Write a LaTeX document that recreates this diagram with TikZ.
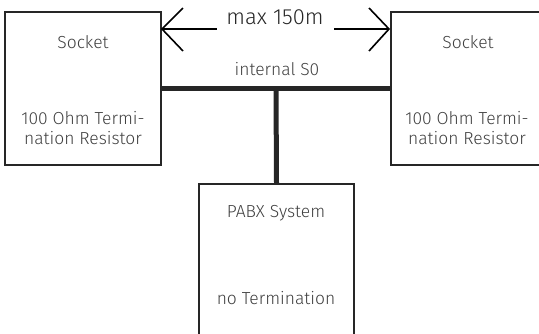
\documentclass[tikz,border=0pt]{standalone}
\usepackage{fontspec}
\setmainfont{Fira Sans}[UprightFont=* Light]
\begin{document}
\begin{tikzpicture}[x=1bp,y=-1bp,
  box/.style={draw=black!85,line width=1.5bp,rectangle,inner sep=0pt},
  lbl/.style={text=black!75,font=\fontsize{17.5}{19.5}\selectfont,align=center,inner sep=0pt},
  bus/.style={draw=black!85,line width=5bp},
  arr/.style={draw=black,line width=1.6bp}]
\useasboundingbox (0,0) rectangle (539,333);
\begin{scope}
\clip (0,0) rectangle (539,333);
\node[box,minimum width=156bp,minimum height=153bp] (left) at (83,88.5) {};
\node[box,minimum width=156bp,minimum height=153bp] (right) at (469,88.5) {};
\node[box,minimum width=155bp,minimum height=170bp] (pabx) at (276.5,269) {};
\end{scope}
\node[lbl] (ls) at (83,42) {Socket};
\node[lbl] (lr) at (83,128) {100 Ohm Termi-\\nation Resistor};
\node[lbl] (rs) at (468,42) {Socket};
\node[lbl] (rr) at (467,128) {100 Ohm Termi-\\nation Resistor};
\node[lbl] (ps) at (276,213) {PABX System};
\node[lbl] (pn) at (276,298) {no Termination};
\node[lbl] (s0) at (277,69) {internal S0};
\node[lbl,font=\fontsize{22}{24}\selectfont,text=black!85] (mx) at (275,17) {max 150m};
\coordinate (j) at (276,88);
\draw[bus] (left.east |- j) -- (right.west |- j);
\draw[bus] (j) -- (pabx.north);
\coordinate (lt) at (162,29);
\coordinate (rt) at (389,29);
\draw[arr] (lt) -- (217,29);
\draw[arr] (183,8) -- (lt) -- (183,51);
\draw[arr] (rt) -- (334,29);
\draw[arr] (369,8) -- (rt) -- (369,51);
\end{tikzpicture}
\end{document}
